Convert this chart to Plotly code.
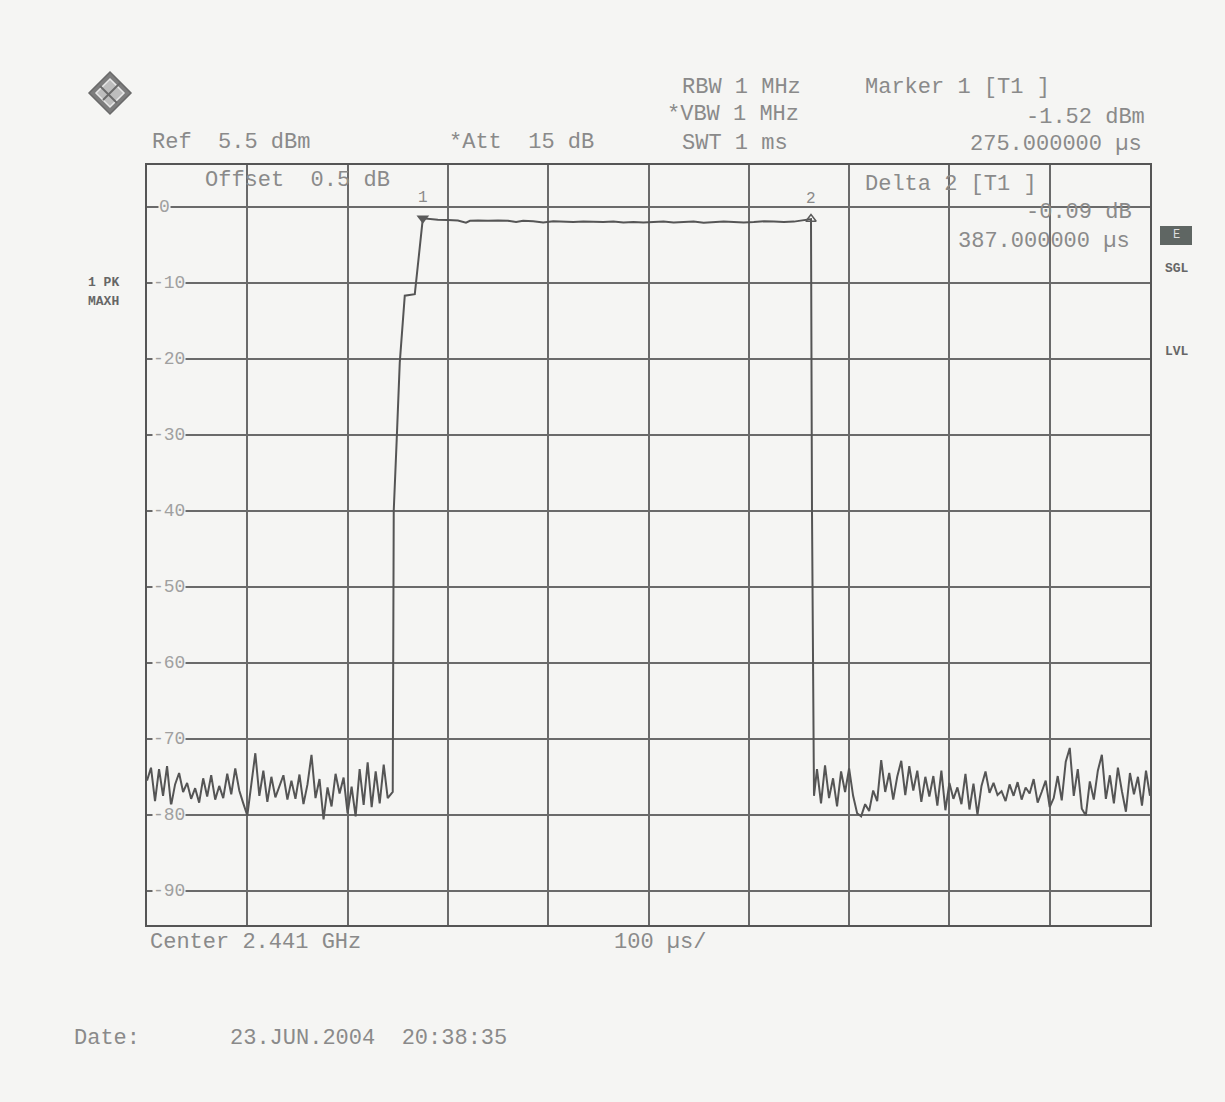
import plotly.graph_objects as go

# ---------------- data ----------------
# sweep: zero span, 100 us/div, 0..1000 us ; level in dBm
noise_left_start, noise_step = 0, 4
noise_left = [
    -75.5, -73.8, -78.2, -74.0, -77.5, -73.6, -78.8, -76.0, -74.5, -77.0,
    -75.8, -77.9, -76.5, -78.4, -75.2, -77.6, -74.8, -78.0, -76.2, -77.8,
    -74.6, -77.3, -73.9, -76.8, -78.5, -80.1, -76.0, -71.9, -77.5, -74.2,
    -78.3, -75.0, -77.7, -76.1, -74.8, -78.0, -75.5, -77.9, -74.7, -78.6,
    -76.0, -72.1, -77.8, -75.3, -80.6, -76.4, -78.9, -74.6, -77.2, -75.1,
    -79.8, -76.3, -80.2, -74.0, -78.7, -73.1, -79.0, -74.3, -78.5, -73.4,
    -77.8,
]
rise_t = [245, 246, 249, 252, 257, 267]
rise_v = [-77.0, -40.0, -30.5, -20.5, -11.7, -11.5]
flat_t = [275, 280, 290, 300, 310, 318, 322, 330, 340, 350, 360, 368, 375, 385,
          395, 405, 415, 425, 435, 445, 455, 465, 475, 485, 495, 505, 515, 525,
          535, 545, 555, 565, 575, 585, 595, 605, 615, 625, 635, 645, 655, 662]
flat_v = [-1.52, -1.6, -1.7, -1.75, -1.8, -2.1, -1.85, -1.8, -1.85, -1.8, -1.85,
          -2.0, -1.85, -1.9, -2.05, -1.9, -1.95, -2.0, -1.95, -2.0, -2.0, -1.95,
          -2.05, -2.0, -2.05, -2.0, -1.95, -2.05, -2.0, -1.95, -2.1, -2.0, -1.95,
          -2.0, -2.05, -2.0, -1.9, -1.95, -2.0, -1.95, -1.8, -1.61]
fall_t = [663, 665]
fall_v = [-40.0, -77.5]
noise_right_start = 668
noise_right = [
    -74.0, -78.5, -73.5, -77.8, -75.2, -78.9, -74.3, -77.0, -73.9, -77.5,
    -79.8, -80.2, -78.6, -79.5, -76.8, -78.2, -72.8, -77.0, -74.5, -78.0,
    -75.0, -72.9, -77.4, -73.6, -76.8, -74.2, -78.3, -75.0, -77.6, -74.9,
    -78.8, -74.2, -79.4, -75.8, -77.9, -76.4, -78.6, -74.6, -79.3, -75.9,
    -80.0, -76.2, -74.3, -77.1, -75.8, -77.4, -76.9, -78.2, -76.0, -77.5,
    -75.7, -78.0, -76.4, -77.2, -75.3, -78.4, -77.0, -75.5, -79.0, -77.8,
    -74.9, -78.1, -73.0, -71.2, -77.5, -74.0, -79.2, -80.1, -75.6, -78.0,
    -74.2, -72.1, -77.9, -74.8, -78.5, -73.8, -76.9, -79.6, -74.5, -77.3,
    -75.0, -78.8, -74.2, -77.5,
]
marker_t = [275, 662]
marker_v = [-1.52, -1.61]
marker_labels = ["1", "2"]
ytick_vals = [0, -10, -20, -30, -40, -50, -60, -70, -80, -90]
x_range = [0, 1000]
y_range = [-94.5, 5.5]
xdiv = 100

# ---------------- build trace ----------------
left_t = [noise_left_start + i * noise_step for i in range(len(noise_left))]
right_t = [noise_right_start + i * noise_step for i in range(len(noise_right))]
trace_t = left_t + rise_t + flat_t + fall_t + right_t
trace_v = noise_left + rise_v + flat_v + fall_v + noise_right

BG = "#f5f5f3"
GRID = "#6a6a6a"
TXT = "#8a8a8a"
FONT = "Liberation Mono"

W, H = 1225, 1102
L, R, T, B = 147, 1150, 165, 925
OFF = 8  # page body margin offset


def PX(x):
    return (x - L) / (R - L)


def PY(y):
    return (B - y) / (B - T)


fig = go.Figure()
fig.add_trace(go.Scatter(x=trace_t, y=trace_v, mode="lines",
                         line=dict(color="#555555", width=2),
                         hoverinfo="skip", showlegend=False))
fig.add_trace(go.Scatter(x=marker_t[:1], y=marker_v[:1], mode="markers",
                         marker=dict(symbol="triangle-down", size=11, color="#5a5a5a"),
                         showlegend=False, hoverinfo="skip"))
fig.add_trace(go.Scatter(x=marker_t[1:], y=marker_v[1:], mode="markers",
                         marker=dict(symbol="triangle-up-open", size=9, color="#5a5a5a",
                                     line=dict(width=1.5)),
                         showlegend=False, hoverinfo="skip"))

ann = []
for t, v, lab in zip(marker_t, marker_v, marker_labels):
    ann.append(dict(x=t, y=v, xref="x", yref="y", text=lab, showarrow=False,
                    yshift=20, font=dict(family=FONT, size=16, color=TXT)))

for v in ytick_vals:
    ann.append(dict(x=PX(158 if v == 0 else 152), y=v, xref="paper", yref="y",
                    text=str(v), showarrow=False, xanchor="left", yanchor="middle",
                    bgcolor=BG, borderpad=0,
                    font=dict(family=FONT, size=18, color="#a0a0a0")))

NB = "\u00a0"
texts = [
    ("Ref" + NB * 2 + "5.5 dBm", 150, 142, "left"),
    ("*Att" + NB * 2 + "15 dB", 447, 142, "left"),
    ("RBW 1 MHz", 680, 88, "left"),
    ("*VBW 1 MHz", 665, 115, "left"),
    ("SWT 1 ms", 680, 144, "left"),
    ("Marker 1 [T1 ]", 863, 88, "left"),
    ("-1.52 dBm", 1147, 117, "right"),
    ("275.000000 µs", 1144, 145, "right"),
    ("Offset" + NB * 2 + "0.5 dB", 203, 180, "left"),
    ("Delta 2 [T1 ]", 863, 185, "left"),
    ("-0.09 dB", 1134, 213, "right"),
    ("387.000000 µs", 1132, 241, "right"),
    ("Center 2.441 GHz", 148, 942, "left"),
    ("100 µs/", 612, 942, "left"),
    ("Date:", 72, 1038, "left"),
    ("23.JUN.2004" + NB * 2 + "20:38:35", 228, 1038, "left"),
]
for s, x, y, a in texts:
    ann.append(dict(x=PX(x), y=PY(y), xref="paper", yref="paper", text=s.replace(" ", NB),
                    showarrow=False, xanchor=a, yanchor="middle",
                    font=dict(family=FONT, size=22, color=TXT)))

side = [("1 PK", 103, 282), ("MAXH", 103, 301), ("SGL", 1177, 268), ("LVL", 1177, 351)]
for s, x, y in side:
    ann.append(dict(x=PX(x), y=PY(y), xref="paper", yref="paper", text="<b>" + s.replace(" ", NB) + "</b>",
                    showarrow=False, xanchor="center", yanchor="middle",
                    font=dict(family=FONT, size=13, color="#666666")))
ann.append(dict(x=PX(1176), y=PY(235), xref="paper", yref="paper", text="E",
                showarrow=False, xanchor="center", yanchor="middle",
                font=dict(family=FONT, size=12, color="#dddddd")))

shapes = [
    dict(type="rect", xref="paper", yref="paper", x0=PX(1160), x1=PX(1192),
         y0=PY(245), y1=PY(226), fillcolor="#5f6663", line=dict(width=0)),
    # R&S logo diamond
    dict(type="path", xref="paper", yref="paper",
         path="M {} {} L {} {} L {} {} L {} {} Z".format(PX(110), PY(72), PX(131), PY(93),
                                                       PX(110), PY(114), PX(89), PY(93)),
         fillcolor="#7d7d7d", line=dict(color="#6a6a6a", width=1.5)),
    dict(type="path", xref="paper", yref="paper",
         path="M {} {} L {} {} L {} {} L {} {} Z".format(PX(110), PY(79), PX(124), PY(93),
                                                       PX(110), PY(107), PX(96), PY(93)),
         fillcolor="#bdbdbd", line=dict(color="#e8e8e8", width=1.5)),
    dict(type="line", xref="paper", yref="paper", x0=PX(100), y0=PY(86), x1=PX(117), y1=PY(103),
         line=dict(color="#6a6a6a", width=2)),
    dict(type="line", xref="paper", yref="paper", x0=PX(103), y0=PY(100), x1=PX(120), y1=PY(83),
         line=dict(color="#6a6a6a", width=2)),
]

fig.update_layout(
    width=W, height=H,
    margin=dict(l=L - OFF, r=W - R + OFF, t=T - OFF, b=H - B + OFF, pad=0),
    paper_bgcolor=BG, plot_bgcolor=BG,
    showlegend=False,
    annotations=ann, shapes=shapes,
    xaxis=dict(range=x_range, tick0=0, dtick=xdiv, showgrid=True, gridcolor=GRID,
               gridwidth=1.5, showticklabels=False, ticks="", zeroline=False,
               showline=True, linecolor="#555555", linewidth=2, mirror=True),
    yaxis=dict(range=y_range, tickvals=ytick_vals, showgrid=True, gridcolor=GRID,
               gridwidth=1.5, showticklabels=False, ticks="", zeroline=False,
               showline=True, linecolor="#555555", linewidth=2, mirror=True),
)

fig.write_html("out.html", post_script="document.body.style.background='%s';" % BG)
